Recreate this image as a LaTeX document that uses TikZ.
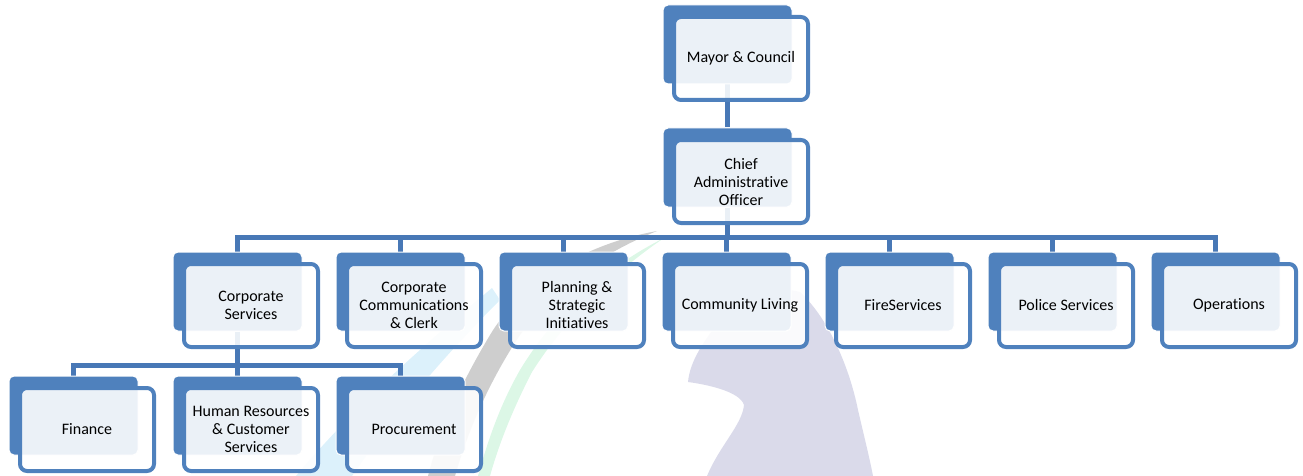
\documentclass[tikz,border=0pt]{standalone}
\usepackage{fontspec}
\setmainfont{Carlito}[Ligatures={NoCommon}]
\definecolor{boxblue}{RGB}{79,129,189}
\definecolor{connblue}{RGB}{72,120,182}
\definecolor{wmgrey}{RGB}{206,206,206}
\definecolor{wmgreen}{RGB}{220,247,230}
\definecolor{wmcyan}{RGB}{220,241,251}
\definecolor{wmlav}{RGB}{218,218,234}
\pgfdeclarelayer{wm}
\pgfdeclarelayer{bg}
\pgfsetlayers{wm,bg,main}
\tikzset{
  backbox/.style={fill=boxblue, draw=white, line width=1pt, rounded corners=5pt,
    minimum width=129pt, minimum height=79pt, inner sep=0pt},
  frontbox/.style={fill=white, fill opacity=0.89, text opacity=1, draw=boxblue,
    line width=4pt, rounded corners=7pt, minimum width=134pt, minimum height=83pt,
    inner sep=0pt, align=center, font=\fontsize{16}{18}\selectfont},
  conn/.style={draw=connblue, line width=4.5pt}
}
\newcommand\orgbox[4]{%
  \node[backbox] (#1) at (#2+64.5,#3+39.5) {};
  \node[frontbox] (#1F) at (#2+78,#3+53.5) {#4};
}
\begin{document}
\begin{tikzpicture}[x=1pt,y=-1pt]
\useasboundingbox (0,0) rectangle (1303,476);
% watermark
\begin{pgfonlayer}{wm}
  \fill[wmcyan] (492,288) .. controls (430,340) and (360,400) .. (296,476)
     -- (352,476) .. controls (390,420) and (440,360) .. (500,300) -- cycle;
  \fill[wmgrey] (657,231) .. controls (580,245) and (520,285) .. (490,335)
     .. controls (460,385) and (440,430) .. (428,476) -- (455,476)
     .. controls (468,430) and (490,380) .. (520,335)
     .. controls (560,280) and (610,250) .. (657,231) -- cycle;
  \fill[wmgreen] (664,238) .. controls (600,270) and (550,320) .. (520,370)
     .. controls (500,405) and (488,440) .. (478,476) -- (490,476)
     .. controls (500,440) and (515,405) .. (532,372)
     .. controls (565,320) and (610,275) .. (664,238) -- cycle;
  \fill[wmlav] (707,476) .. controls (720,445) and (742,425) .. (744,405)
     .. controls (740,392) and (710,385) .. (688,382)
     .. controls (690,360) and (705,340) .. (720,320)
     .. controls (740,295) and (775,285) .. (800,292)
     .. controls (830,320) and (850,370) .. (858,410)
     .. controls (865,440) and (870,460) .. (873,476) -- cycle;
\end{pgfonlayer}
% boxes
\orgbox{mayor}{663}{5}{Mayor \& Council}
\orgbox{cao}{663}{128}{Chief\\Administrative\\Officer}
\orgbox{cs}{173}{252}{Corporate\\Services}
\orgbox{ccc}{336}{252}{Corporate\\Communications\\\& Clerk}
\orgbox{psi}{499}{252}{Planning \&\\Strategic\\Initiatives}
\orgbox{cl}{662}{252}{Community Living}
\orgbox{fs}{825}{252}{FireServices}
\orgbox{ps}{988}{252}{Police Services}
\orgbox{ops}{1151}{252}{Operations}
\orgbox{fin}{9}{376}{Finance}
\orgbox{hr}{173}{376}{Human Resources\\\& Customer\\Services}
\orgbox{proc}{336}{376}{Procurement}
% connectors
\begin{pgfonlayer}{bg}
  \draw[conn] (mayor.south) -- (cao.north);
  \foreach \n in {cs,ccc,psi,cl,fs,ps,ops}
    \draw[conn] (cao.south) -- ++(0,30) -| (\n.north);
  \foreach \n in {fin,hr,proc}
    \draw[conn] (cs.south) -- ++(0,34) -| (\n.north);
\end{pgfonlayer}
\end{tikzpicture}
\end{document}
